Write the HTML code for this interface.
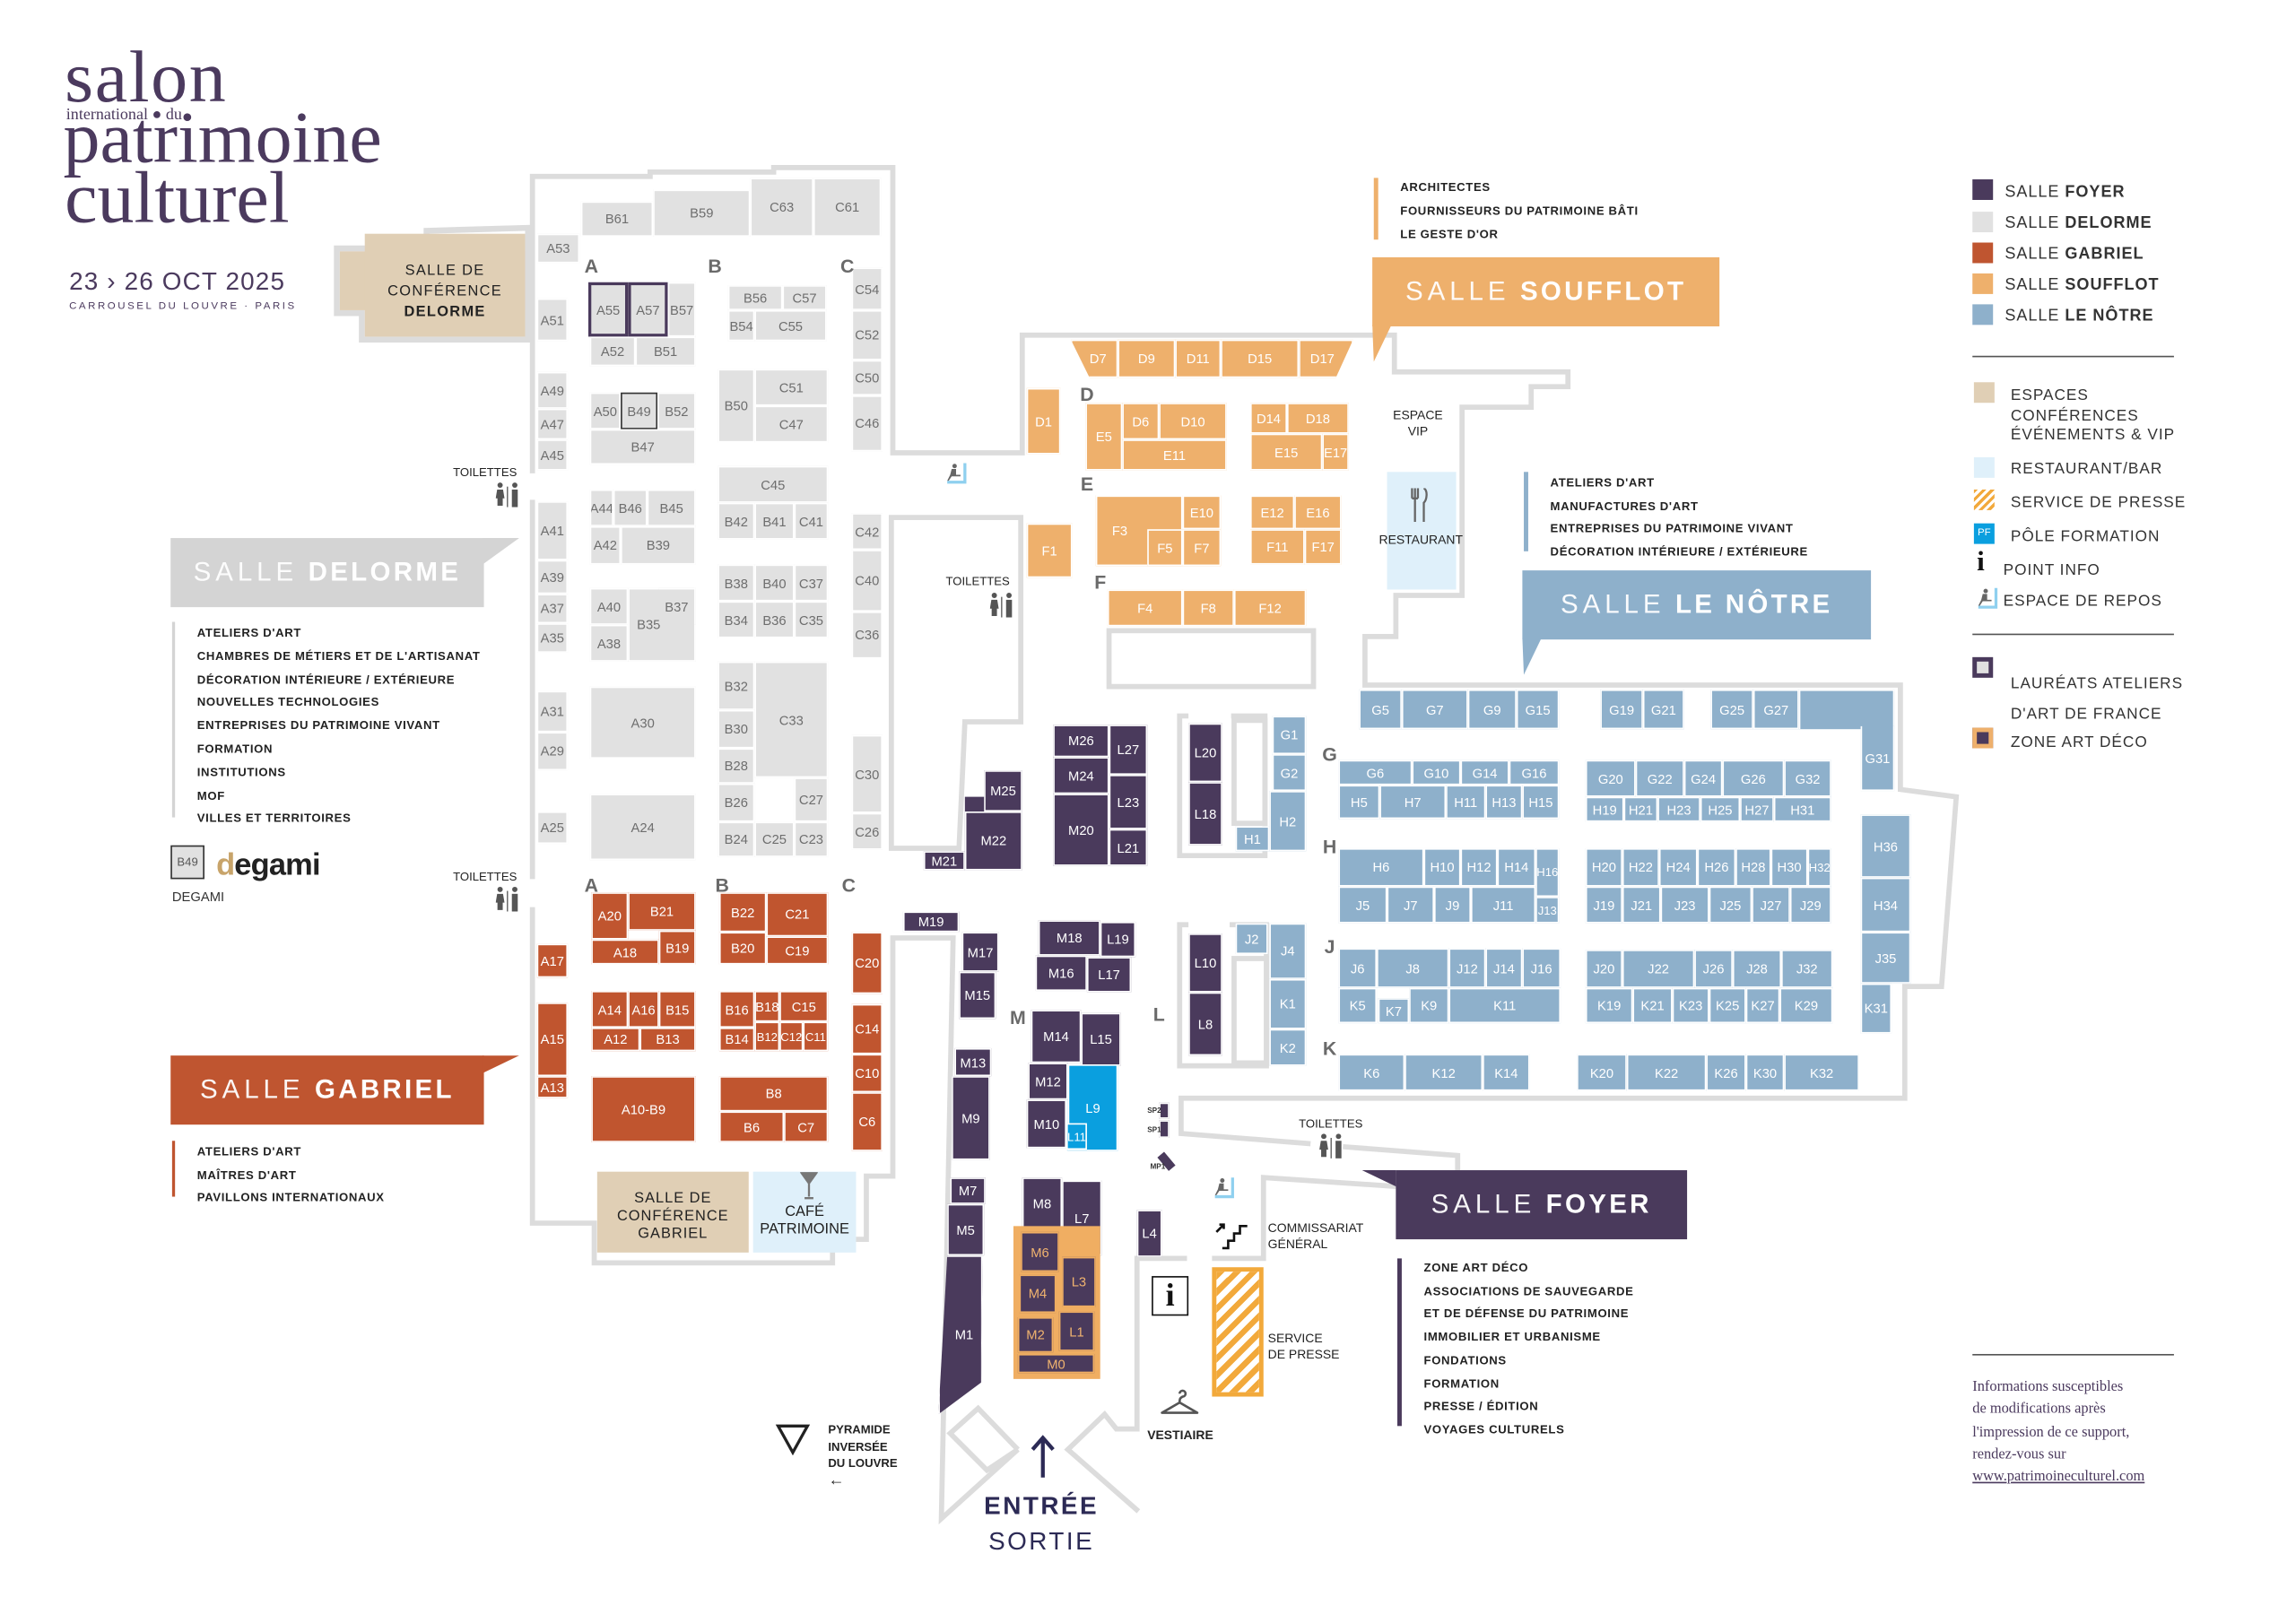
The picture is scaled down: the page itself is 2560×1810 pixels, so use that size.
<!DOCTYPE html>
<html><head><meta charset="utf-8"><style>
html,body{margin:0;padding:0;background:#fff}
body{width:2560px;height:1810px;overflow:hidden;position:relative}
.m{position:absolute;left:0;top:0;width:1561px;height:1104px;transform:scale(1.64,1.6395);transform-origin:0 0;font-family:"Liberation Sans",sans-serif}
.m i{position:absolute;display:flex;align-items:center;justify-content:center;font:9px "Liberation Sans Narrow","Liberation Sans",sans-serif;font-style:normal;box-sizing:border-box;border:0.7px solid #fff;white-space:nowrap;overflow:hidden}
.g{background:#e1e1e1;color:#6e6e6e}
.r{background:#c0552f;color:#fff}
.o{background:#eeb06c;color:#fff}
.n{background:#8eb0cb;color:#fff}
.p{background:#4a3a5c;color:#fff}
.t{position:absolute;white-space:nowrap}
.ls{font:bold 8px "Liberation Sans",sans-serif;color:#222;letter-spacing:.4px;line-height:1}
.lt{position:absolute;font:bold 13px "Liberation Sans",sans-serif;color:#6a6a6a;transform:translate(-50%,-50%)}
.hd{position:absolute;color:#fff;display:flex;align-items:center;justify-content:center;font-size:18px;letter-spacing:2px}
.hd span{font-weight:300;letter-spacing:3px;margin-right:7px;opacity:.95}
.hd b{letter-spacing:2px}
.lg{position:absolute;font:11px "Liberation Sans",sans-serif;color:#333;letter-spacing:.6px;line-height:1}
.sq{position:absolute;width:14px;height:14px}
</style></head><body><div class="m">

<!-- title -->
<div class="t" style="left:44px;top:27px;font:50px/1 'Liberation Serif',serif;color:#4b3a5e;letter-spacing:1px">salon</div>
<div class="t" style="left:45px;top:73px;font:11px/1 'Liberation Serif',serif;color:#4b3a5e">international ● du</div>
<div class="t" style="left:43px;top:68px;font:50px/1 'Liberation Serif',serif;color:#4b3a5e">patrimoine</div>
<div class="t" style="left:44px;top:109px;font:50px/1 'Liberation Serif',serif;color:#4b3a5e">culturel</div>
<div class="t" style="left:47px;top:183px;font:17px/1 'Liberation Sans',sans-serif;color:#4b3a5e;letter-spacing:0.7px">23 › 26 OCT 2025</div>
<div class="t" style="left:47px;top:205px;font:7px/1 'Liberation Sans',sans-serif;color:#4b3a5e;letter-spacing:1.55px">CARROUSEL DU LOUVRE · PARIS</div>

<!-- walls -->
<svg style="position:absolute;left:0;top:0" width="1561" height="1104" viewBox="0 0 1561 1104">
<g fill="none" stroke="#dcdcdc" stroke-width="3.5" stroke-linejoin="miter">
<polyline points="362,322 362,120 442,120 442,117 526,117 526,114 607,114 607,308 695,308 695,228 948,228 948,253 1066,253 1066,263 1041,263 1041,277 994,277 994,405 949,405 949,433 928,433 928,466 1292,466 1292,537 1330,542 1320,671 1295,671 1295,747 803,747 803,771 891,778"/>
<polyline points="913,780 991,786 991,796"/>
<polyline points="362,340 362,598"/>
<polyline points="362,617 362,832 404,832 404,859 566,859 566,843 589,843 589,800 607,800 607,638 648,638 640,1033 692,986 671,1000 646,975 665,958 692,986"/>
<polyline points="774,1028 726,986 751,962 759,972 773,972 773,856 807,856"/>
<polyline points="824,856 859,856 859,801 949,807"/>
<polygon points="606,352 694,352 694,491 656,491 652,577 606,577"/>
<rect x="754" y="429" width="139" height="38"/>
<polyline points="808,487 802,487 802,582 860,582 860,487 837,487"/>
<rect x="839" y="490" width="21" height="70"/>
<polyline points="808,629 802,629 802,725 861,725 861,629 836,629"/>
<rect x="839" y="652" width="22" height="71"/>
<polygon points="229,169 290,169 290,157 359,155 359,231 246,231 246,213 229,213" stroke-width="4"/>
</g>
</svg>

<!-- conference rooms -->
<div style="position:absolute;left:231px;top:171px;width:126px;height:40px;background:#e0cfb5"></div>
<div style="position:absolute;left:248px;top:159px;width:109px;height:70px;background:#e0cfb5"></div>
<div class="t" style="left:248px;top:178px;width:109px;text-align:center;font:10px/14px 'Liberation Sans',sans-serif;color:#222;letter-spacing:.8px">SALLE DE<br>CONFÉRENCE<br><b>DELORME</b></div>
<div style="position:absolute;left:406px;top:797px;width:103px;height:55px;background:#e0cfb5"></div>
<div class="t" style="left:406px;top:810px;width:103px;text-align:center;font:10px/12px 'Liberation Sans',sans-serif;color:#222;letter-spacing:.6px">SALLE DE<br>CONFÉRENCE<br>GABRIEL</div>
<div style="position:absolute;left:512px;top:797px;width:70px;height:55px;background:#dff0fa"></div>
<div class="t" style="left:512px;top:819px;width:70px;text-align:center;font:10px/12px 'Liberation Sans',sans-serif;color:#222">CAFÉ<br>PATRIMOINE</div>
<svg style="position:absolute;left:544px;top:797px" width="12" height="20"><path d="M1 1 L11 1 L6 8 Z M6 8 V17 M3 18 H9" fill="#777" stroke="#777" stroke-width="1.4"/></svg>

<!-- Delorme booths -->
<i class="g" style="left:395px;top:137px;width:49px;height:24px">B61</i>
<i class="g" style="left:444px;top:129px;width:66px;height:32px">B59</i>
<i class="g" style="left:510px;top:121px;width:43px;height:40px">C63</i>
<i class="g" style="left:553px;top:121px;width:46px;height:40px">C61</i>
<i class="g" style="left:365px;top:159px;width:29px;height:20px">A53</i>
<i class="g" style="left:365px;top:203px;width:21px;height:29px">A51</i>
<i class="g" style="left:400px;top:192px;width:27px;height:37px;border:2.5px solid #4a3a5c">A55</i>
<i class="g" style="left:427px;top:192px;width:27px;height:37px;border:2.5px solid #4a3a5c">A57</i>
<i class="g" style="left:454px;top:192px;width:19px;height:37px">B57</i>
<i class="g" style="left:401px;top:229px;width:31px;height:20px">A52</i>
<i class="g" style="left:432px;top:229px;width:41px;height:20px">B51</i>
<i class="g" style="left:495px;top:194px;width:37px;height:17px">B56</i>
<i class="g" style="left:532px;top:194px;width:30px;height:17px">C57</i>
<i class="g" style="left:495px;top:211px;width:18px;height:21px">B54</i>
<i class="g" style="left:513px;top:211px;width:49px;height:21px">C55</i>
<i class="g" style="left:579px;top:182px;width:21px;height:29px">C54</i>
<i class="g" style="left:579px;top:211px;width:21px;height:34px">C52</i>
<i class="g" style="left:579px;top:245px;width:21px;height:24px">C50</i>
<i class="g" style="left:579px;top:269px;width:21px;height:38px">C46</i>
<i class="g" style="left:365px;top:253px;width:21px;height:25px">A49</i>
<i class="g" style="left:365px;top:278px;width:21px;height:21px">A47</i>
<i class="g" style="left:365px;top:299px;width:21px;height:21px">A45</i>
<i class="g" style="left:401px;top:267px;width:21px;height:25px">A50</i>
<i class="g" style="left:422px;top:267px;width:25px;height:25px;border:1.2px solid #333">B49</i>
<i class="g" style="left:447px;top:267px;width:26px;height:25px">B52</i>
<i class="g" style="left:401px;top:292px;width:72px;height:24px">B47</i>
<i class="g" style="left:488px;top:251px;width:25px;height:50px">B50</i>
<i class="g" style="left:513px;top:251px;width:50px;height:25px">C51</i>
<i class="g" style="left:513px;top:276px;width:50px;height:25px">C47</i>
<i class="g" style="left:488px;top:317px;width:75px;height:25px">C45</i>
<i class="g" style="left:488px;top:342px;width:25px;height:25px">B42</i>
<i class="g" style="left:513px;top:342px;width:27px;height:25px">B41</i>
<i class="g" style="left:540px;top:342px;width:23px;height:25px">C41</i>
<i class="g" style="left:579px;top:349px;width:21px;height:25px">C42</i>
<i class="g" style="left:579px;top:374px;width:21px;height:42px">C40</i>
<i class="g" style="left:579px;top:416px;width:21px;height:32px">C36</i>
<i class="g" style="left:365px;top:341px;width:21px;height:40px">A41</i>
<i class="g" style="left:365px;top:381px;width:21px;height:23px">A39</i>
<i class="g" style="left:365px;top:404px;width:21px;height:20px">A37</i>
<i class="g" style="left:365px;top:424px;width:21px;height:20px">A35</i>
<i class="g" style="left:401px;top:333px;width:16px;height:25px">A44</i>
<i class="g" style="left:417px;top:333px;width:23px;height:25px">B46</i>
<i class="g" style="left:440px;top:333px;width:33px;height:25px">B45</i>
<i class="g" style="left:401px;top:358px;width:21px;height:26px">A42</i>
<i class="g" style="left:422px;top:358px;width:51px;height:26px">B39</i>
<i class="g" style="left:401px;top:400px;width:26px;height:25px">A40</i>
<i class="g" style="left:401px;top:425px;width:26px;height:25px">A38</i>
<i class="g" style="left:427px;top:400px;width:46px;height:50px;justify-content:flex-start;padding-left:5px">B35</i>
<i class="g" style="left:448px;top:400px;width:25px;height:25px;border-left:none;border-bottom:none">B37</i>
<i class="g" style="left:488px;top:384px;width:25px;height:25px">B38</i>
<i class="g" style="left:513px;top:384px;width:27px;height:25px">B40</i>
<i class="g" style="left:540px;top:384px;width:23px;height:25px">C37</i>
<i class="g" style="left:488px;top:409px;width:25px;height:25px">B34</i>
<i class="g" style="left:513px;top:409px;width:27px;height:25px">B36</i>
<i class="g" style="left:540px;top:409px;width:23px;height:25px">C35</i>
<i class="g" style="left:365px;top:470px;width:21px;height:28px">A31</i>
<i class="g" style="left:365px;top:498px;width:21px;height:26px">A29</i>
<i class="g" style="left:401px;top:467px;width:72px;height:49px">A30</i>
<i class="g" style="left:488px;top:450px;width:25px;height:33px">B32</i>
<i class="g" style="left:488px;top:483px;width:25px;height:26px">B30</i>
<i class="g" style="left:488px;top:509px;width:25px;height:24px">B28</i>
<i class="g" style="left:513px;top:450px;width:50px;height:79px">C33</i>
<i class="g" style="left:488px;top:533px;width:25px;height:26px">B26</i>
<i class="g" style="left:540px;top:529px;width:23px;height:30px">C27</i>
<i class="g" style="left:488px;top:559px;width:25px;height:24px">B24</i>
<i class="g" style="left:513px;top:559px;width:27px;height:24px">C25</i>
<i class="g" style="left:540px;top:559px;width:23px;height:24px">C23</i>
<i class="g" style="left:365px;top:552px;width:21px;height:22px">A25</i>
<i class="g" style="left:401px;top:540px;width:72px;height:45px">A24</i>
<i class="g" style="left:579px;top:500px;width:21px;height:53px">C30</i>
<i class="g" style="left:579px;top:553px;width:21px;height:25px">C26</i>

<div class="lt" style="left:402px;top:181px">A</div><div class="lt" style="left:486px;top:181px">B</div><div class="lt" style="left:576px;top:181px">C</div>
<div class="lt" style="left:402px;top:602px">A</div><div class="lt" style="left:491px;top:602px">B</div><div class="lt" style="left:577px;top:602px">C</div>

<!-- Gabriel -->
<i class="r" style="left:402px;top:607px;width:25px;height:32px">A20</i>
<i class="r" style="left:427px;top:607px;width:46px;height:26px">B21</i>
<i class="r" style="left:448px;top:633px;width:25px;height:23px">B19</i>
<i class="r" style="left:402px;top:639px;width:46px;height:17px">A18</i>
<i class="r" style="left:489px;top:607px;width:32px;height:27px">B22</i>
<i class="r" style="left:521px;top:607px;width:42px;height:30px">C21</i>
<i class="r" style="left:489px;top:634px;width:32px;height:22px">B20</i>
<i class="r" style="left:521px;top:637px;width:42px;height:19px">C19</i>
<i class="r" style="left:365px;top:642px;width:21px;height:23px">A17</i>
<i class="r" style="left:579px;top:634px;width:21px;height:42px">C20</i>
<i class="r" style="left:402px;top:674px;width:25px;height:25px">A14</i>
<i class="r" style="left:427px;top:674px;width:21px;height:25px">A16</i>
<i class="r" style="left:448px;top:674px;width:25px;height:25px">B15</i>
<i class="r" style="left:402px;top:699px;width:33px;height:16px">A12</i>
<i class="r" style="left:435px;top:699px;width:38px;height:16px">B13</i>
<i class="r" style="left:489px;top:674px;width:24px;height:25px">B16</i>
<i class="r" style="left:513px;top:674px;width:17px;height:21px">B18</i>
<i class="r" style="left:530px;top:674px;width:33px;height:21px">C15</i>
<i class="r" style="left:489px;top:699px;width:24px;height:16px">B14</i>
<i class="r" style="left:513px;top:695px;width:17px;height:20px;font-size:8px">B12</i>
<i class="r" style="left:530px;top:695px;width:16px;height:20px;font-size:8px">C12</i>
<i class="r" style="left:546px;top:695px;width:17px;height:20px;font-size:8px">C11</i>
<i class="r" style="left:365px;top:682px;width:21px;height:50px">A15</i>
<i class="r" style="left:365px;top:732px;width:21px;height:15px">A13</i>
<i class="r" style="left:579px;top:683px;width:21px;height:34px">C14</i>
<i class="r" style="left:579px;top:717px;width:21px;height:26px">C10</i>
<i class="r" style="left:579px;top:743px;width:21px;height:40px">C6</i>
<i class="r" style="left:402px;top:732px;width:71px;height:45px">A10-B9</i>
<i class="r" style="left:489px;top:732px;width:74px;height:24px">B8</i>
<i class="r" style="left:489px;top:756px;width:44px;height:21px">B6</i>
<i class="r" style="left:533px;top:756px;width:30px;height:21px">C7</i>

<!-- Soufflot -->
<i class="o" style="left:728px;top:231px;width:32px;height:26px;clip-path:polygon(0 0,100% 0,100% 100%,40% 100%)">&nbsp;&nbsp;D7</i>
<i class="o" style="left:760px;top:231px;width:39px;height:26px">D9</i>
<i class="o" style="left:799px;top:231px;width:31px;height:26px">D11</i>
<i class="o" style="left:830px;top:231px;width:53px;height:26px">D15</i>
<i class="o" style="left:883px;top:231px;width:37px;height:26px;clip-path:polygon(0 0,100% 0,68% 100%,0 100%)">D17&nbsp;&nbsp;</i>
<i class="o" style="left:698px;top:264px;width:23px;height:45px">D1</i>
<i class="o" style="left:738px;top:274px;width:25px;height:46px">E5</i>
<i class="o" style="left:763px;top:274px;width:25px;height:25px">D6</i>
<i class="o" style="left:788px;top:274px;width:46px;height:25px">D10</i>
<i class="o" style="left:763px;top:299px;width:71px;height:21px">E11</i>
<i class="o" style="left:850px;top:274px;width:25px;height:21px">D14</i>
<i class="o" style="left:875px;top:274px;width:42px;height:21px">D18</i>
<i class="o" style="left:850px;top:295px;width:49px;height:25px">E15</i>
<i class="o" style="left:899px;top:295px;width:18px;height:25px">E17</i>
<i class="o" style="left:698px;top:356px;width:31px;height:37px">F1</i>
<i class="o" style="left:745px;top:337px;width:59px;height:48px;justify-content:flex-start;padding-left:10px">F3</i>
<i class="o" style="left:804px;top:337px;width:26px;height:23px">E10</i>
<i class="o" style="left:780px;top:360px;width:24px;height:25px">F5</i>
<i class="o" style="left:804px;top:360px;width:26px;height:25px">F7</i>
<i class="o" style="left:850px;top:337px;width:30px;height:23px">E12</i>
<i class="o" style="left:880px;top:337px;width:32px;height:23px">E16</i>
<i class="o" style="left:850px;top:360px;width:37px;height:24px">F11</i>
<i class="o" style="left:887px;top:360px;width:25px;height:24px">F17</i>
<i class="o" style="left:753px;top:401px;width:51px;height:25px">F4</i>
<i class="o" style="left:804px;top:401px;width:35px;height:25px">F8</i>
<i class="o" style="left:839px;top:401px;width:49px;height:25px">F12</i>
<div class="lt" style="left:739px;top:268px">D</div><div class="lt" style="left:739px;top:329px">E</div><div class="lt" style="left:748px;top:396px">F</div>

<!-- Le Notre -->
<i class="n" style="left:924px;top:469px;width:29px;height:27px">G5</i>
<i class="n" style="left:953px;top:469px;width:45px;height:27px">G7</i>
<i class="n" style="left:998px;top:469px;width:33px;height:27px">G9</i>
<i class="n" style="left:1031px;top:469px;width:29px;height:27px">G15</i>
<i class="n" style="left:1088px;top:469px;width:29px;height:27px">G19</i>
<i class="n" style="left:1117px;top:469px;width:28px;height:27px">G21</i>
<i class="n" style="left:1163px;top:469px;width:29px;height:27px">G25</i>
<i class="n" style="left:1192px;top:469px;width:31px;height:27px">G27</i>
<i class="n" style="left:1223px;top:469px;width:65px;height:27px;border-bottom:none"></i>
<i class="n" style="left:1265px;top:494px;width:23px;height:44px;border-top:none">G31</i>
<i class="n" style="left:865px;top:487px;width:23px;height:26px">G1</i>
<i class="n" style="left:865px;top:513px;width:23px;height:25px">G2</i>
<i class="n" style="left:863px;top:538px;width:25px;height:41px">H2</i>
<i class="n" style="left:840px;top:562px;width:23px;height:17px">H1</i>
<i class="n" style="left:910px;top:517px;width:50px;height:17px">G6</i>
<i class="n" style="left:960px;top:517px;width:33px;height:17px">G10</i>
<i class="n" style="left:993px;top:517px;width:33px;height:17px">G14</i>
<i class="n" style="left:1026px;top:517px;width:34px;height:17px">G16</i>
<i class="n" style="left:910px;top:534px;width:28px;height:23px">H5</i>
<i class="n" style="left:938px;top:534px;width:45px;height:23px">H7</i>
<i class="n" style="left:983px;top:534px;width:27px;height:23px">H11</i>
<i class="n" style="left:1010px;top:534px;width:25px;height:23px">H13</i>
<i class="n" style="left:1035px;top:534px;width:25px;height:23px">H15</i>
<i class="n" style="left:1078px;top:517px;width:34px;height:25px">G20</i>
<i class="n" style="left:1112px;top:517px;width:33px;height:25px">G22</i>
<i class="n" style="left:1145px;top:517px;width:26px;height:25px">G24</i>
<i class="n" style="left:1171px;top:517px;width:42px;height:25px">G26</i>
<i class="n" style="left:1213px;top:517px;width:32px;height:25px">G32</i>
<i class="n" style="left:1078px;top:542px;width:26px;height:17px">H19</i>
<i class="n" style="left:1104px;top:542px;width:23px;height:17px">H21</i>
<i class="n" style="left:1127px;top:542px;width:29px;height:17px">H23</i>
<i class="n" style="left:1156px;top:542px;width:27px;height:17px">H25</i>
<i class="n" style="left:1183px;top:542px;width:23px;height:17px">H27</i>
<i class="n" style="left:1206px;top:542px;width:39px;height:17px">H31</i>
<i class="n" style="left:910px;top:577px;width:58px;height:26px">H6</i>
<i class="n" style="left:968px;top:577px;width:25px;height:26px">H10</i>
<i class="n" style="left:993px;top:577px;width:25px;height:26px">H12</i>
<i class="n" style="left:1018px;top:577px;width:26px;height:26px">H14</i>
<i class="n" style="left:1044px;top:577px;width:16px;height:33px;font-size:8px">H16</i>
<i class="n" style="left:1044px;top:610px;width:16px;height:18px;font-size:8px">J13</i>
<i class="n" style="left:910px;top:603px;width:33px;height:25px">J5</i>
<i class="n" style="left:943px;top:603px;width:32px;height:25px">J7</i>
<i class="n" style="left:975px;top:603px;width:25px;height:25px">J9</i>
<i class="n" style="left:1000px;top:603px;width:44px;height:25px">J11</i>
<i class="n" style="left:1078px;top:577px;width:25px;height:26px">H20</i>
<i class="n" style="left:1103px;top:577px;width:25px;height:26px">H22</i>
<i class="n" style="left:1128px;top:577px;width:26px;height:26px">H24</i>
<i class="n" style="left:1154px;top:577px;width:26px;height:26px">H26</i>
<i class="n" style="left:1180px;top:577px;width:24px;height:26px">H28</i>
<i class="n" style="left:1204px;top:577px;width:25px;height:26px">H30</i>
<i class="n" style="left:1229px;top:577px;width:16px;height:26px;font-size:8px">H32</i>
<i class="n" style="left:1078px;top:603px;width:25px;height:25px">J19</i>
<i class="n" style="left:1103px;top:603px;width:26px;height:25px">J21</i>
<i class="n" style="left:1129px;top:603px;width:33px;height:25px">J23</i>
<i class="n" style="left:1162px;top:603px;width:29px;height:25px">J25</i>
<i class="n" style="left:1191px;top:603px;width:26px;height:25px">J27</i>
<i class="n" style="left:1217px;top:603px;width:28px;height:25px">J29</i>
<i class="n" style="left:1265px;top:554px;width:34px;height:43px">H36</i>
<i class="n" style="left:1265px;top:597px;width:34px;height:37px">H34</i>
<i class="n" style="left:1265px;top:634px;width:34px;height:35px">J35</i>
<i class="n" style="left:1265px;top:669px;width:21px;height:34px">K31</i>
<i class="n" style="left:840px;top:628px;width:22px;height:21px">J2</i>
<i class="n" style="left:863px;top:628px;width:25px;height:38px">J4</i>
<i class="n" style="left:863px;top:666px;width:25px;height:34px">K1</i>
<i class="n" style="left:863px;top:700px;width:25px;height:25px">K2</i>
<i class="n" style="left:910px;top:645px;width:26px;height:27px">J6</i>
<i class="n" style="left:936px;top:645px;width:49px;height:27px">J8</i>
<i class="n" style="left:985px;top:645px;width:25px;height:27px">J12</i>
<i class="n" style="left:1010px;top:645px;width:25px;height:27px">J14</i>
<i class="n" style="left:1035px;top:645px;width:26px;height:27px">J16</i>
<i class="n" style="left:910px;top:672px;width:26px;height:24px">K5</i>
<i class="n" style="left:937px;top:679px;width:21px;height:17px">K7</i>
<i class="n" style="left:958px;top:672px;width:27px;height:24px">K9</i>
<i class="n" style="left:985px;top:672px;width:76px;height:24px">K11</i>
<i class="n" style="left:1078px;top:646px;width:25px;height:26px">J20</i>
<i class="n" style="left:1103px;top:646px;width:49px;height:26px">J22</i>
<i class="n" style="left:1152px;top:646px;width:26px;height:26px">J26</i>
<i class="n" style="left:1178px;top:646px;width:33px;height:26px">J28</i>
<i class="n" style="left:1211px;top:646px;width:35px;height:26px">J32</i>
<i class="n" style="left:1078px;top:672px;width:32px;height:24px">K19</i>
<i class="n" style="left:1110px;top:672px;width:27px;height:24px">K21</i>
<i class="n" style="left:1137px;top:672px;width:25px;height:24px">K23</i>
<i class="n" style="left:1162px;top:672px;width:25px;height:24px">K25</i>
<i class="n" style="left:1187px;top:672px;width:23px;height:24px">K27</i>
<i class="n" style="left:1210px;top:672px;width:36px;height:24px">K29</i>
<i class="n" style="left:910px;top:717px;width:45px;height:25px">K6</i>
<i class="n" style="left:955px;top:717px;width:53px;height:25px">K12</i>
<i class="n" style="left:1008px;top:717px;width:32px;height:25px">K14</i>
<i class="n" style="left:1072px;top:717px;width:34px;height:25px">K20</i>
<i class="n" style="left:1106px;top:717px;width:54px;height:25px">K22</i>
<i class="n" style="left:1160px;top:717px;width:27px;height:25px">K26</i>
<i class="n" style="left:1187px;top:717px;width:26px;height:25px">K30</i>
<i class="n" style="left:1213px;top:717px;width:51px;height:25px">K32</i>
<div class="lt" style="left:904px;top:513px">G</div><div class="lt" style="left:904px;top:576px">H</div><div class="lt" style="left:904px;top:644px">J</div><div class="lt" style="left:904px;top:713px">K</div><div class="lt" style="left:788px;top:690px">L</div><div class="lt" style="left:692px;top:692px">M</div>

<!-- Foyer -->
<i class="p" style="left:808px;top:492px;width:23px;height:40px">L20</i>
<i class="p" style="left:808px;top:532px;width:23px;height:43px">L18</i>
<i class="p" style="left:808px;top:635px;width:23px;height:40px">L10</i>
<i class="p" style="left:808px;top:675px;width:23px;height:43px">L8</i>
<i class="p" style="left:716px;top:493px;width:38px;height:22px">M26</i>
<i class="p" style="left:754px;top:493px;width:26px;height:34px">L27</i>
<i class="p" style="left:716px;top:515px;width:38px;height:25px">M24</i>
<i class="p" style="left:754px;top:527px;width:26px;height:37px">L23</i>
<i class="p" style="left:716px;top:540px;width:38px;height:49px">M20</i>
<i class="p" style="left:754px;top:564px;width:26px;height:25px">L21</i>
<i class="p" style="left:669px;top:524px;width:26px;height:28px">M25</i>
<i class="p" style="left:656px;top:542px;width:13px;height:10px;border:none"></i>
<i class="p" style="left:656px;top:552px;width:39px;height:40px">M22</i>
<i class="p" style="left:628px;top:579px;width:28px;height:13px">M21</i>
<i class="p" style="left:614px;top:620px;width:38px;height:14px">M19</i>
<i class="p" style="left:654px;top:634px;width:25px;height:27px">M17</i>
<i class="p" style="left:652px;top:661px;width:25px;height:32px">M15</i>
<i class="p" style="left:706px;top:626px;width:42px;height:24px">M18</i>
<i class="p" style="left:748px;top:627px;width:24px;height:24px">L19</i>
<i class="p" style="left:704px;top:650px;width:35px;height:24px">M16</i>
<i class="p" style="left:739px;top:651px;width:30px;height:24px">L17</i>
<i class="p" style="left:701px;top:687px;width:34px;height:36px">M14</i>
<i class="p" style="left:735px;top:689px;width:27px;height:36px">L15</i>
<i class="p" style="left:699px;top:723px;width:27px;height:25px">M12</i>
<i class="p" style="left:698px;top:748px;width:27px;height:33px">M10</i>
<i style="left:726px;top:724px;width:34px;height:59px;background:#0a9fdf;color:#fff">L9</i>
<i style="left:725px;top:764px;width:14px;height:18px;background:#0a9fdf;color:#fff;border:1px solid #fff;font-size:8px">L11</i>
<i class="p" style="left:649px;top:713px;width:25px;height:19px">M13</i>
<i class="p" style="left:647px;top:732px;width:26px;height:57px">M9</i>
<i class="p" style="left:646px;top:801px;width:24px;height:18px">M7</i>
<i class="p" style="left:644px;top:819px;width:25px;height:35px">M5</i>
<i class="p" style="left:638px;top:854px;width:30px;height:108px;clip-path:polygon(20% 0,100% 0,97% 80%,0 100%)">&nbsp;&nbsp;M1</i>
<i class="p" style="left:695px;top:801px;width:27px;height:35px">M8</i>
<i class="p" style="left:722px;top:803px;width:27px;height:51px">L7</i>
<div style="position:absolute;left:689px;top:834px;width:59px;height:104px;background:#f0ae62"></div>
<i class="p" style="left:694px;top:838px;width:26px;height:27px;color:#f0b36f;border-color:#f0ae62">M6</i>
<i class="p" style="left:722px;top:855px;width:23px;height:34px;color:#f0b36f;border-color:#f0ae62">L3</i>
<i class="p" style="left:693px;top:867px;width:25px;height:26px;color:#f0b36f;border-color:#f0ae62">M4</i>
<i class="p" style="left:692px;top:896px;width:24px;height:24px;color:#f0b36f;border-color:#f0ae62">M2</i>
<i class="p" style="left:720px;top:892px;width:24px;height:27px;color:#f0b36f;border-color:#f0ae62">L1</i>
<i class="p" style="left:692px;top:921px;width:52px;height:13px;color:#f0b36f;border-color:#f0ae62">M0</i>
<i class="p" style="left:773px;top:823px;width:17px;height:32px">L4</i>
<i class="p" style="left:788px;top:750px;width:7px;height:11px"></i>
<i class="p" style="left:788px;top:762px;width:7px;height:12px"></i>
<div class="t" style="left:780px;top:753px;font:bold 5px 'Liberation Sans';color:#333">SP2</div>
<div class="t" style="left:780px;top:766px;font:bold 5px 'Liberation Sans';color:#333">SP1</div>
<div style="position:absolute;left:790px;top:784px;width:6px;height:12px;background:#4a3a5c;transform:rotate(-40deg)"></div>
<div class="t" style="left:782px;top:791px;font:bold 5px 'Liberation Sans';color:#333">MP1</div>

<!-- header boxes -->
<div class="hd" style="left:116px;top:366px;width:213px;height:47px;background:#d4d4d4"><span>SALLE</span><b>DELORME</b></div>
<svg style="position:absolute;left:328px;top:366px" width="26" height="20"><polygon points="0,0 25,0 0,18" fill="#d4d4d4"/></svg>
<div class="hd" style="left:116px;top:718px;width:213px;height:47px;background:#bf5530"><span>SALLE</span><b>GABRIEL</b></div>
<svg style="position:absolute;left:328px;top:718px" width="26" height="20"><polygon points="0,0 25,0 0,12" fill="#bf5530"/></svg>
<div class="hd" style="left:933px;top:175px;width:236px;height:47px;background:#eeb06c"><span>SALLE</span><b>SOUFFLOT</b></div>
<svg style="position:absolute;left:933px;top:221px" width="14" height="26"><polygon points="0,0 13,0 1,25" fill="#eeb06c"/></svg>
<div class="hd" style="left:1035px;top:388px;width:237px;height:47px;background:#8eb0cb"><span>SALLE</span><b>LE NÔTRE</b></div>
<svg style="position:absolute;left:1035px;top:434px" width="14" height="26"><polygon points="0,0 13,0 1,25" fill="#8eb0cb"/></svg>
<div class="hd" style="left:949px;top:796px;width:198px;height:47px;background:#4a3a5c"><span>SALLE</span><b>FOYER</b></div>
<svg style="position:absolute;left:926px;top:796px" width="24" height="12"><polygon points="0,0 23,0 23,11" fill="#4a3a5c"/></svg>

<!-- description lists -->
<div style="position:absolute;left:117px;top:423px;width:2px;height:133px;background:#d4d4d4"></div>
<div class="t ls" style="left:134px;top:423px;line-height:15.8px">ATELIERS D'ART<br>CHAMBRES DE MÉTIERS ET DE L'ARTISANAT<br>DÉCORATION INTÉRIEURE / EXTÉRIEURE<br>NOUVELLES TECHNOLOGIES<br>ENTREPRISES DU PATRIMOINE VIVANT<br>FORMATION<br>INSTITUTIONS<br>MOF<br>VILLES ET TERRITOIRES</div>
<div style="position:absolute;left:117px;top:776px;width:2px;height:38px;background:#bf5530"></div>
<div class="t ls" style="left:134px;top:776px;line-height:15.5px">ATELIERS D'ART<br>MAÎTRES D'ART<br>PAVILLONS INTERNATIONAUX</div>
<div style="position:absolute;left:934px;top:121px;width:3px;height:42px;background:#eeb06c"></div>
<div class="t ls" style="left:952px;top:120px;line-height:16px">ARCHITECTES<br>FOURNISSEURS DU PATRIMOINE BÂTI<br>LE GESTE D'OR</div>
<div style="position:absolute;left:1036px;top:321px;width:3px;height:54px;background:#8eb0cb"></div>
<div class="t ls" style="left:1054px;top:321px;line-height:15.7px">ATELIERS D'ART<br>MANUFACTURES D'ART<br>ENTREPRISES DU PATRIMOINE VIVANT<br>DÉCORATION INTÉRIEURE / EXTÉRIEURE</div>
<div style="position:absolute;left:950px;top:856px;width:3px;height:114px;background:#4a3a5c"></div>
<div class="t ls" style="left:968px;top:855px;line-height:15.7px">ZONE ART DÉCO<br>ASSOCIATIONS DE SAUVEGARDE<br>ET DE DÉFENSE DU PATRIMOINE<br>IMMOBILIER ET URBANISME<br>FONDATIONS<br>FORMATION<br>PRESSE / ÉDITION<br>VOYAGES CULTURELS</div>

<!-- degami -->
<div style="position:absolute;left:116px;top:575px;width:23px;height:23px;border:1.2px solid #333;background:#e1e1e1;box-sizing:border-box;font:8px 'Liberation Sans Narrow','Liberation Sans';color:#555;display:flex;align-items:center;justify-content:center">B49</div>
<div class="t" style="left:147px;top:578px;font:bold 21px/1 'Liberation Sans',sans-serif;color:#222;letter-spacing:-.5px"><span style="color:#c8a46a">d</span>egami</div>
<div class="t" style="left:117px;top:605px;font:9px 'Liberation Sans';color:#333">DEGAMI</div>

<!-- misc labels -->
<div class="t" style="left:308px;top:317px;font:8px 'Liberation Sans';color:#222">TOILETTES</div>
<div class="t" style="left:308px;top:592px;font:8px 'Liberation Sans';color:#222">TOILETTES</div>
<div class="t" style="left:643px;top:391px;font:8px 'Liberation Sans';color:#222">TOILETTES</div>
<div class="t" style="left:883px;top:760px;font:8px 'Liberation Sans';color:#222">TOILETTES</div>
<svg width="0" height="0" style="position:absolute"><defs><g id="wc"><circle cx="3" cy="2" r="1.8" fill="#555"/><path d="M1 5h4l1 6h-1.2v5h-3.6v-5H0z" fill="#555"/><rect x="7.6" y="3" width=".8" height="14" fill="#555"/><circle cx="13" cy="2" r="1.8" fill="#555"/><rect x="11" y="5" width="4" height="12" fill="#555"/></g></defs></svg>
<svg style="position:absolute;left:337px;top:328px" width="17" height="17"><use href="#wc"/></svg>
<svg style="position:absolute;left:337px;top:603px" width="17" height="17"><use href="#wc"/></svg>
<svg style="position:absolute;left:673px;top:403px" width="17" height="17"><use href="#wc"/></svg>
<svg style="position:absolute;left:897px;top:771px" width="17" height="17"><use href="#wc"/></svg>
<svg width="0" height="0" style="position:absolute"><defs><g id="rp"><path d="M14 1V14H2" stroke="#8fd0ef" stroke-width="2" fill="none"/><circle cx="7" cy="3" r="1.5" fill="#666"/><path d="M5 5h3v4h3v1H5l-2 3H2l2-4z" fill="#666"/></g></defs></svg>
<svg style="position:absolute;left:642px;top:314px" width="16" height="16"><use href="#rp"/></svg>
<svg style="position:absolute;left:824px;top:800px" width="16" height="16"><use href="#rp"/></svg>
<svg style="position:absolute;left:1343px;top:399px" width="16" height="16"><use href="#rp"/></svg>
<div class="t" style="left:945px;top:277px;width:38px;text-align:center;font:8.5px/11px 'Liberation Sans';color:#222">ESPACE<br>VIP</div>
<div style="position:absolute;left:943px;top:321px;width:47px;height:80px;background:#dff0fa"></div>
<svg style="position:absolute;left:959px;top:332px" width="12" height="24"><path d="M1 0v7M3 0v7M5 0v7M1 7h4M3 7v16M9 0c3 2 2 8 0 10v13" stroke="#666" stroke-width="1.4" fill="none"/></svg>
<div class="t" style="left:936px;top:362px;width:60px;text-align:center;font:8.5px 'Liberation Sans';color:#222">RESTAURANT</div>
<div style="position:absolute;left:783px;top:868px;width:25px;height:27px;border:1.5px solid #111;box-sizing:border-box;font:bold 22px/24px 'Liberation Serif',serif;text-align:center;color:#111">i</div>
<div style="position:absolute;left:824px;top:862px;width:35px;height:88px;box-sizing:border-box;border:3px solid #f2a93b;background:repeating-linear-gradient(135deg,#f2a93b 0 4px,#fff 4px 8px)"></div>
<svg style="position:absolute;left:825px;top:831px" width="26" height="20"><path d="M2 7l5-5M4 2h3v3M6 18h4v-5h4v-5h4v-5h5" stroke="#111" stroke-width="1.6" fill="none"/></svg>
<div class="t" style="left:862px;top:830px;font:8.5px/11px 'Liberation Sans';color:#222">COMMISSARIAT<br>GÉNÉRAL</div>
<div class="t" style="left:862px;top:905px;font:8.5px/11px 'Liberation Sans';color:#222">SERVICE<br>DE PRESSE</div>
<svg style="position:absolute;left:787px;top:944px" width="30" height="20"><path d="M15 4a2 2 0 1 1 2 2c-2 1-2 2-2 4M15 10L3 17h24z" stroke="#555" stroke-width="1.6" fill="none" stroke-linejoin="round"/></svg>
<div class="t" style="left:780px;top:971px;font:bold 8.5px 'Liberation Sans';color:#222">VESTIAIRE</div>
<svg style="position:absolute;left:527px;top:968px" width="24" height="22"><path d="M2 2H22L12 20Z" stroke="#222" stroke-width="2" fill="none"/></svg>
<div class="t" style="left:563px;top:967px;font:bold 8px/11.5px 'Liberation Sans';color:#222">PYRAMIDE<br>INVERSÉE<br>DU LOUVRE<br><span style="font-size:11px">←</span></div>
<svg style="position:absolute;left:700px;top:976px" width="18" height="30"><path d="M9 29V3M2 10L9 2L16 10" stroke="#2c2a55" stroke-width="2.6" fill="none"/></svg>
<div class="t" style="left:658px;top:1016px;width:100px;text-align:center;font:bold 17px/1 'Liberation Sans';color:#2c2a55;letter-spacing:1.5px">ENTRÉE</div>
<div class="t" style="left:658px;top:1040px;width:100px;text-align:center;font:17px/1 'Liberation Sans';color:#2c2a55;letter-spacing:1.5px">SORTIE</div>

<!-- legend -->
<div class="sq" style="left:1341px;top:122px;background:#4a3a5c"></div><div class="lg" style="left:1363px;top:126px">SALLE <b>FOYER</b></div>
<div class="sq" style="left:1341px;top:144px;background:#e1e1e1"></div><div class="lg" style="left:1363px;top:147px">SALLE <b>DELORME</b></div>
<div class="sq" style="left:1341px;top:165px;background:#bf5530"></div><div class="lg" style="left:1363px;top:168px">SALLE <b>GABRIEL</b></div>
<div class="sq" style="left:1341px;top:186px;background:#eeb06c"></div><div class="lg" style="left:1363px;top:189px">SALLE <b>SOUFFLOT</b></div>
<div class="sq" style="left:1341px;top:207px;background:#8eb0cb"></div><div class="lg" style="left:1363px;top:210px">SALLE <b>LE NÔTRE</b></div>
<div style="position:absolute;left:1341px;top:242px;width:137px;height:1px;background:#555"></div>
<div class="sq" style="left:1342px;top:260px;background:#e0cfb5"></div><div class="lg" style="left:1367px;top:263px;font-size:10.5px;line-height:13.5px">ESPACES<br>CONFÉRENCES<br>ÉVÉNEMENTS &amp; VIP</div>
<div class="sq" style="left:1342px;top:311px;background:#dff0fa"></div><div class="lg" style="left:1367px;top:314px;font-size:10.5px">RESTAURANT/BAR</div>
<div class="sq" style="left:1342px;top:333px;background:repeating-linear-gradient(135deg,#f2a93b 0 2px,#fff 2px 4px)"></div><div class="lg" style="left:1367px;top:337px;font-size:10.5px">SERVICE DE PRESSE</div>
<div class="sq" style="left:1342px;top:356px;background:#0a9fdf;color:#fff;font:7px/14px 'Liberation Sans';text-align:center">PF</div><div class="lg" style="left:1367px;top:360px;font-size:10.5px">PÔLE FORMATION</div>
<div class="t" style="left:1344px;top:373px;font:bold 19px/1 'Liberation Serif',serif;color:#111">i</div><div class="lg" style="left:1362px;top:383px;font-size:10.5px">POINT INFO</div>
<div class="lg" style="left:1362px;top:404px;font-size:10.5px">ESPACE DE REPOS</div>
<div style="position:absolute;left:1341px;top:431px;width:137px;height:1px;background:#555"></div>
<div class="sq" style="left:1341px;top:447px;border:3px solid #4a3a5c;box-sizing:border-box;background:#e1e1e1"></div>
<div class="lg" style="left:1367px;top:455px;font-size:10.5px;line-height:21px">LAURÉATS ATELIERS<br>D'ART DE FRANCE</div>
<div class="sq" style="left:1341px;top:495px;border:3px solid #eeb06c;box-sizing:border-box;background:#4a3a5c"></div><div class="lg" style="left:1367px;top:500px;font-size:10.5px">ZONE ART DÉCO</div>
<div style="position:absolute;left:1341px;top:921px;width:137px;height:1px;background:#555"></div>
<div class="t" style="left:1341px;top:936px;font:10px/15.3px 'Liberation Serif',serif;color:#4b3a5e">Informations susceptibles<br>de modifications après<br>l'impression de ce support,<br>rendez-vous sur<br><u>www.patrimoineculturel.com</u></div>
</div></body></html>
